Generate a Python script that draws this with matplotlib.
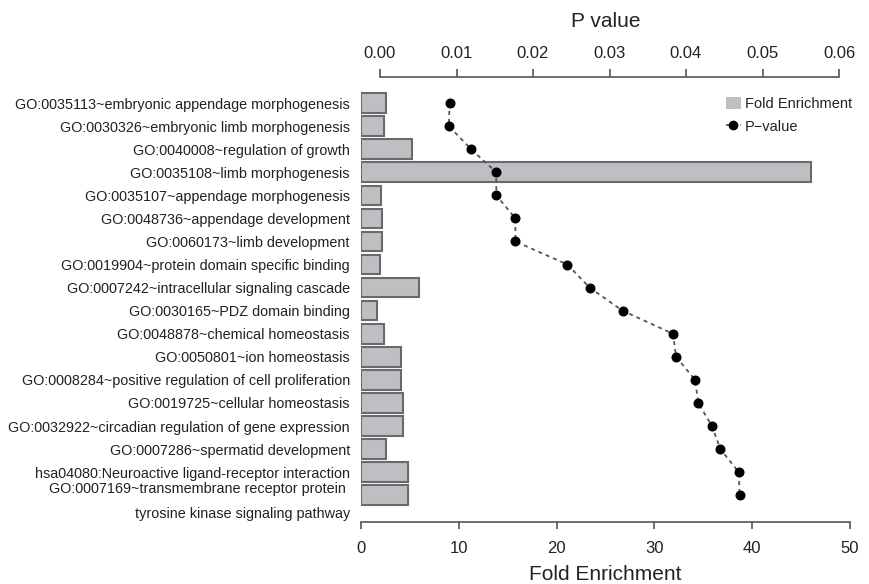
import matplotlib.pyplot as plt
from matplotlib.patches import Patch
from matplotlib.lines import Line2D
from matplotlib.transforms import offset_copy

plt.rcParams["font.family"] = ["Liberation Sans", "DejaVu Sans"]

terms = [
    "GO:0035113~embryonic appendage morphogenesis",
    "GO:0030326~embryonic limb morphogenesis",
    "GO:0040008~regulation of growth",
    "GO:0035108~limb morphogenesis",
    "GO:0035107~appendage morphogenesis",
    "GO:0048736~appendage development",
    "GO:0060173~limb development",
    "GO:0019904~protein domain specific binding",
    "GO:0007242~intracellular signaling cascade",
    "GO:0030165~PDZ domain binding",
    "GO:0048878~chemical homeostasis",
    "GO:0050801~ion homeostasis",
    "GO:0008284~positive regulation of cell proliferation",
    "GO:0019725~cellular homeostasis",
    "GO:0032922~circadian regulation of gene expression",
    "GO:0007286~spermatid development",
    "hsa04080:Neuroactive ligand-receptor interaction",
    "GO:0007169~transmembrane receptor protein \ntyrosine kinase signaling pathway",
]
fold_enrichment = [2.56, 2.32, 5.18, 46.0, 2.0, 2.11, 2.11, 1.96, 5.93, 1.6,
                   2.35, 4.09, 4.06, 4.26, 4.26, 2.52, 4.84, 4.84]
p_values = [0.0091, 0.0090, 0.0119, 0.0152, 0.0152, 0.0177, 0.0177, 0.0245,
            0.0274, 0.0317, 0.0383, 0.0387, 0.0412, 0.0416, 0.0434, 0.0445,
            0.0469, 0.0470]

W, H = 869, 584
fig = plt.figure(figsize=(W / 100, H / 100), dpi=100)
ax = fig.add_axes([361 / W, 1 - 522 / H, (850 - 361) / W, (522 - 77) / H])

ypos = list(range(len(terms)))
text_col = "#222222"
axis_col = "#555555"
lab_size = 10.4

# bars (bottom axis)
ax.barh(ypos, fold_enrichment, height=0.85, color="#bebfc3",
        edgecolor="#6a6a6a", linewidth=1.5, zorder=2)
ax.set_xlim(0, 50)
ax.set_ylim(18.157, -1.127)
ax.set_yticks(ypos)
ax.set_yticklabels(terms[:-1] + [""], fontsize=lab_size, color=text_col)
ax.tick_params(axis="y", length=0, pad=8)

# the two-line label sits a bit below its bar centre
trans = offset_copy(ax.get_yaxis_transform(), fig=fig, x=-11, y=-6,
                    units="dots")
ax.text(0, ypos[-1], terms[-1], transform=trans, ha="right", va="center",
        multialignment="right", fontsize=lab_size, color=text_col,
        linespacing=2.05)

for s in ["left", "right", "top"]:
    ax.spines[s].set_visible(False)
ax.spines["bottom"].set_bounds(0, 50)
ax.spines["bottom"].set_color(axis_col)
ax.spines["bottom"].set_linewidth(1.2)
ax.set_xticks([0, 10, 20, 30, 40, 50])
ax.tick_params(axis="x", length=5, width=1.2, color=axis_col, labelsize=12,
               labelcolor=text_col, pad=8.5)
ax.set_xlabel("Fold Enrichment", fontsize=15, color=text_col, labelpad=6.5)

# p-values (top axis)
ax2 = ax.twiny()
ax2.plot(p_values, ypos, linestyle=(0, (2.2, 2.2)), color="#555555", lw=1.3,
         marker="o", markersize=6.2, markerfacecolor="black",
         markeredgecolor="black", zorder=3)
ax2.set_xlim((361 - 380) / 7650, (850 - 380) / 7650)
for s in ["left", "right", "bottom"]:
    ax2.spines[s].set_visible(False)
ax2.spines["top"].set_bounds(0, 0.06)
ax2.spines["top"].set_color(axis_col)
ax2.spines["top"].set_linewidth(1.2)
ax2.set_xticks([0.0, 0.01, 0.02, 0.03, 0.04, 0.05, 0.06])
ax2.set_xticklabels(["0.00", "0.01", "0.02", "0.03", "0.04", "0.05", "0.06"])
ax2.tick_params(axis="x", length=5.8, width=1.2, color=axis_col, labelsize=12,
                labelcolor=text_col, pad=5.5)
ax2.set_xlabel("P value", fontsize=15, color=text_col, labelpad=14)

handles = [
    Patch(facecolor="#bebfc3", edgecolor="none", label="Fold Enrichment"),
    Line2D([], [], linestyle=(0, (2, 2)), color="#555555", lw=1.3, marker="o",
           markersize=6, markerfacecolor="black", markeredgecolor="black",
           label="P\u2212value"),
]
fig.legend(handles=handles, loc="upper left",
           bbox_to_anchor=(726 / W, 1 - 97 / H), frameon=False, fontsize=10.5,
           handlelength=1.0, handleheight=0.9, handletextpad=0.3,
           borderpad=0, borderaxespad=0, labelspacing=0.6,
           labelcolor=text_col)

fig.savefig("out.png", dpi=100)
